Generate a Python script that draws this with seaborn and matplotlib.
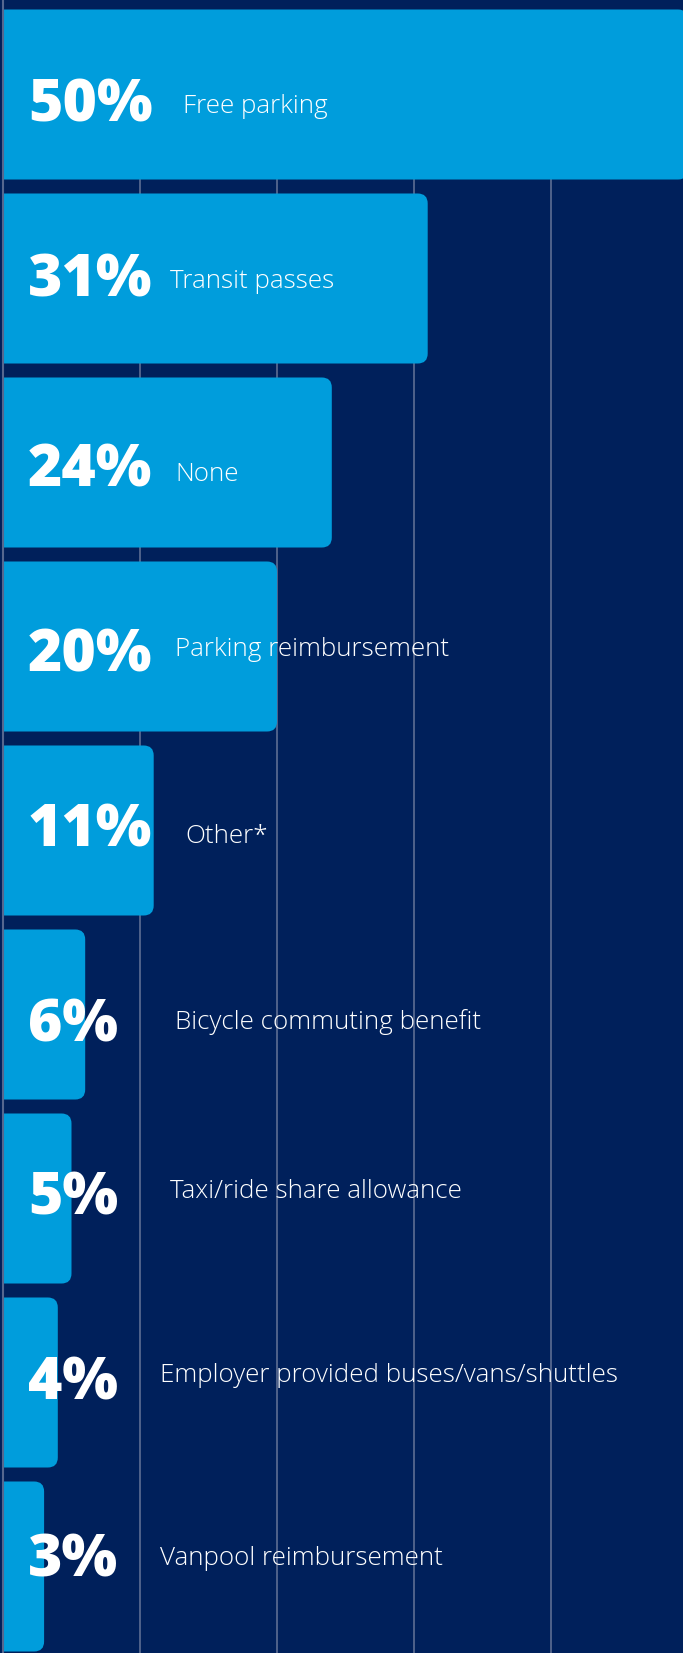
import matplotlib
matplotlib.use("Agg")
import matplotlib.pyplot as plt
from matplotlib.patches import FancyBboxPatch, Rectangle
from matplotlib.transforms import blended_transform_factory
import pandas as pd
import seaborn as sns

# ---- data -------------------------------------------------------------
benefits = [
    "Free parking",
    "Transit passes",
    "None",
    "Parking reimbursement",
    "Other*",
    "Bicycle commuting benefit",
    "Taxi/ride share allowance",
    "Employer provided buses/vans/shuttles",
    "Vanpool reimbursement",
]
shares = [50, 31, 24, 20, 11, 6, 5, 4, 3]

# ---- layout / style ---------------------------------------------------
NAVY = "#00205B"
BAR = "#009DDC"
GRID = "#56678F"
W_PX, H_PX, DPI = 683, 1653, 100
PX_PER_PCT = 13.7        # horizontal pixels per percentage point
PX_PER_ROW = 184         # vertical pixels per category row
LEFT_PX = 3              # pixel position of the zero line
TOP_PX = 94.5            # pixel centre of the first row
BAR_H = 0.924
CORNER_PX = 10
value_x_px = 28
value_dy_px = [27.5, 18.5, 24.5, 25.5, 16.5, 27.5, 16.5, 17.5, 10.5]
name_x_px = [183, 170, 175, 175, 185, 175, 170, 160, 160]
name_dy_px = [18.5, 9.5, 19, 10, 12.5, 15, 0, 0, -1.5]

df = pd.DataFrame({"benefit": benefits, "share": shares})

sns.set_theme(style="white")
plt.rcParams["font.family"] = ["Open Sans", "DejaVu Sans"]

fig = plt.figure(figsize=(W_PX / DPI, H_PX / DPI), dpi=DPI, facecolor=NAVY)
ax = fig.add_axes([0, 0, 1, 1])
ax.set_facecolor(NAVY)

sns.barplot(data=df, x="share", y="benefit", orient="h", color=BAR,
            saturation=1, width=BAR_H, ax=ax)

# swap the square bars for bars with rounded right-hand corners
aspect = PX_PER_PCT / PX_PER_ROW
radius = CORNER_PX / PX_PER_PCT
clip = Rectangle((0, -5), 200, 30, transform=ax.transData)
for p in list(ax.patches):
    x0, y0, w, h = p.get_x(), p.get_y(), p.get_width(), p.get_height()
    rb = FancyBboxPatch((x0 - 3, y0), w + 3, h,
                        boxstyle=f"round,pad=0,rounding_size={radius}",
                        mutation_aspect=aspect, facecolor=BAR,
                        edgecolor="none", zorder=2)
    ax.add_patch(rb)
    rb.set_clip_path(clip)
    p.remove()

ax.set_xlim(-LEFT_PX / PX_PER_PCT, (W_PX - LEFT_PX) / PX_PER_PCT)
y_top = -TOP_PX / PX_PER_ROW
ax.set_ylim(y_top + H_PX / PX_PER_ROW, y_top)

# vertical guides
ax.vlines([10, 20, 30, 40], 0.46, 20, color=GRID, lw=1.3, zorder=1)
ax.axvline(0, color=GRID, lw=1.5, zorder=3)

for s in ax.spines.values():
    s.set_visible(False)
ax.set_xticks([])
ax.set_yticks([])
ax.set_xlabel("")
ax.set_ylabel("")

tr = blended_transform_factory(ax.transAxes, ax.transData)
for i, (name, val) in enumerate(zip(benefits, shares)):
    ax.text(value_x_px / W_PX, i + value_dy_px[i] / PX_PER_ROW, f"{val}%",
            transform=tr, ha="left", va="baseline", color="white",
            fontsize=42.3, fontweight=800, zorder=4)
    ax.text(name_x_px[i] / W_PX, i + name_dy_px[i] / PX_PER_ROW, name,
            transform=tr, ha="left", va="baseline", color="white",
            fontsize=18.7, fontweight=300, zorder=4)

fig.savefig("out.png", dpi=DPI, facecolor=NAVY)
